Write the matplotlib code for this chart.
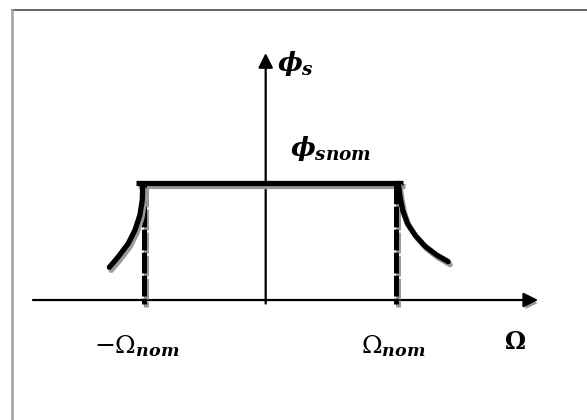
import numpy as np
import matplotlib
matplotlib.use("Agg")
import matplotlib.pyplot as plt
import matplotlib.patheffects as pe
from matplotlib.lines import Line2D

plt.rcParams["mathtext.fontset"] = "custom"
plt.rcParams["mathtext.rm"] = "DejaVu Serif"
plt.rcParams["mathtext.it"] = "DejaVu Serif:italic:bold"
plt.rcParams["mathtext.bf"] = "DejaVu Serif:bold"
plt.rcParams["lines.scale_dashes"] = False

# Axes extents (Omega in units of Omega_nom, phi in units of phi_snom)
omega_axis = [-1.786, 2.091]
phi_axis = [-0.03, 2.106]

# Constant-flux plateau and the two nominal-speed markers
plateau_omega = [-0.995, 1.054]
plateau_phi = [1.0, 1.0]
nom_left, nom_right = -0.934, 1.0

# Field-weakening branches (flux falls beyond nominal speed)
right_omega = [1.018, 1.031, 1.051, 1.087, 1.146, 1.222, 1.312, 1.401]
right_phi = [0.995, 0.881, 0.767, 0.654, 0.554, 0.460, 0.384, 0.327]
left_omega = [-0.944, -0.947, -0.965, -1.003, -1.054, -1.131, -1.200]
left_phi = [0.966, 0.853, 0.725, 0.597, 0.483, 0.369, 0.279]

W, H = 587, 420
fig = plt.figure(figsize=(W / 100, H / 100), dpi=100)
ax = fig.add_axes([0, 0, 1, 1])
ax.set_xlim(-2.039, 2.466)
ax.set_ylim(-1.023, 2.558)
ax.axis("off")

shadow = [pe.SimpleLineShadow(offset=(1.4, -2.2), shadow_color="#9a9a9a", alpha=1.0), pe.Normal()]
patch_shadow = [pe.SimplePatchShadow(offset=(1.4, -2.2), shadow_rgbFace="#9a9a9a", alpha=1.0), pe.Normal()]

# axes with arrow heads
arrow_kw = dict(arrowstyle="-|>", color="black", lw=1.6, mutation_scale=22,
                shrinkA=0, shrinkB=0)
ax.annotate("", xy=(omega_axis[1], 0), xytext=(omega_axis[0], 0),
            arrowprops=dict(**arrow_kw, path_effects=patch_shadow))
ax.annotate("", xy=(0, phi_axis[1]), xytext=(0, phi_axis[0]),
            arrowprops=dict(**arrow_kw))

# plateau
ax.plot(plateau_omega, plateau_phi, color="black", lw=3.8,
        solid_capstyle="butt", path_effects=shadow, zorder=3)

# dashed markers at +/- Omega_nom
for xv in (nom_left, nom_right):
    ax.plot([xv, xv], [1.0, phi_axis[0]], color="black", lw=3.6,
            dashes=(15, 1.6), solid_capstyle="butt", path_effects=shadow, zorder=3)

# decreasing branches
for xs, ys in ((right_omega, right_phi), (left_omega, left_phi)):
    ax.plot(xs, ys, color="black", lw=3.8, solid_joinstyle="round",
            solid_capstyle="round", path_effects=shadow, zorder=4)

# labels
ax.text(0.232, 2.02, r"$\phi_s$", fontsize=19, ha="center", va="center")
ax.text(0.501, 1.296, r"$\phi_{snom}$", fontsize=19, ha="center", va="center")
ax.text(-0.988, -0.39, r"$-\Omega_{nom}$", fontsize=18, ha="center", va="center")
ax.text(0.977, -0.39, r"$\Omega_{nom}$", fontsize=18, ha="center", va="center")
ax.text(1.913, -0.358, r"$\mathbf{\Omega}$", fontsize=17, ha="center", va="center")

# frame lines along the top and left edges
fig.add_artist(Line2D([12 / W, 1], [1 - 10 / H, 1 - 10 / H], color="#4a4a4a", lw=1.2))
fig.add_artist(Line2D([12 / W, 12 / W], [0, 1 - 10 / H], color="#a0a0a0", lw=1.8))

fig.savefig("out.png", dpi=100)
